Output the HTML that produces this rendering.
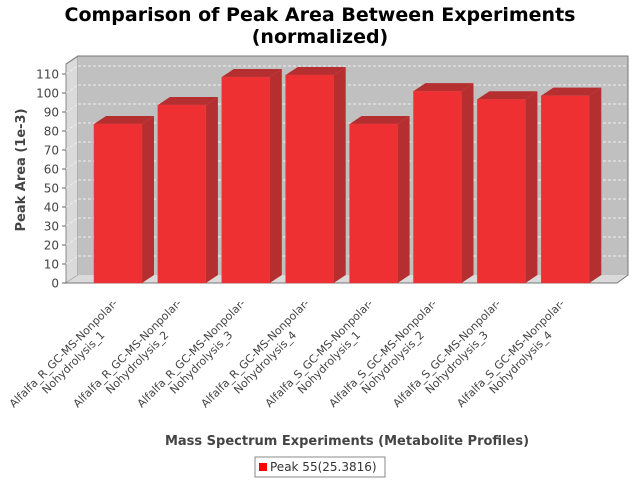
<!DOCTYPE html>
<html><head><meta charset="utf-8"><style>
body{margin:0;background:#fff}
svg{display:block;font-family:"DejaVu Sans","Liberation Sans",sans-serif}
</style></head><body>
<svg id="c" width="640" height="480" viewBox="0 0 640 480">
<text x="320" y="21" text-anchor="middle" font-size="19" font-weight="bold" fill="#000">Comparison of Peak Area Between Experiments</text>
<text x="320" y="43" text-anchor="middle" font-size="19" font-weight="bold" fill="#000">(normalized)</text>
<polygon points="66,64 78,56 78,275 66,283" fill="#dadada" stroke="#888"/>
<polygon points="66,283 78,275 628,275 617,283" fill="#dadada"/>
<rect x="78" y="56" width="550" height="219" fill="#c0c0c0"/>
<polyline points="66,64 78,56 628,56 628,275 617,283 66,283" fill="none" stroke="#777"/>
<g id="grid"></g><g id="bars"></g><g id="yaxis"></g><g id="xlabels"></g>
<text transform="translate(25,170) rotate(-90)" text-anchor="middle" font-size="13" font-weight="bold" fill="#444">Peak Area (1e-3)</text>
<text x="347" y="445" text-anchor="middle" font-size="13" font-weight="bold" fill="#444">Mass Spectrum Experiments (Metabolite Profiles)</text>
<g>
<rect x="255" y="457" width="130" height="20" fill="#fff" stroke="#888"/>
<rect x="259" y="463" width="8" height="8" fill="#f00"/>
<text x="270" y="471" font-size="12" fill="#333">Peak 55(25.3816)</text>
</g>
</svg>
<script>
const categories=["Alfalfa_R_GC-MS-Nonpolar-|Nohydrolysis_1","Alfalfa_R_GC-MS-Nonpolar-|Nohydrolysis_2","Alfalfa_R_GC-MS-Nonpolar-|Nohydrolysis_3","Alfalfa_R_GC-MS-Nonpolar-|Nohydrolysis_4","Alfalfa_S_GC-MS-Nonpolar-|Nohydrolysis_1","Alfalfa_S_GC-MS-Nonpolar-|Nohydrolysis_2","Alfalfa_S_GC-MS-Nonpolar-|Nohydrolysis_3","Alfalfa_S_GC-MS-Nonpolar-|Nohydrolysis_4"];
const values=[83.7,93.7,108.4,109.5,83.7,101,96.7,98.6];
const ticks=[0,10,20,30,40,50,60,70,80,90,100,110];
const NS="http://www.w3.org/2000/svg";
const y0=283,ppu=1.9,dx=12,dy=8,barW=48,pitch=63.9,start=94;
const yS=v=>y0-v*ppu;
const xS=i=>start+i*pitch;
function mk(t,a,p){const e=document.createElementNS(NS,t);for(const k in a)e.setAttribute(k,a[k]);p.appendChild(e);return e;}
const grid=document.getElementById('grid'),bars=document.getElementById('bars'),ya=document.getElementById('yaxis'),xl=document.getElementById('xlabels');
ticks.forEach(t=>{
  const y=yS(t);
  if(t>0){
    const g=mk('line',{x1:78,x2:628,y1:y-dy,y2:y-dy,stroke:'#eee','stroke-dasharray':'3,2','stroke-width':1},grid);
    
    
    const g2=mk('line',{x1:66,x2:78,y1:y,y2:y-dy,stroke:'#eee','stroke-dasharray':'3,2'},grid);
    
    
  }
  const tk=mk('line',{x1:62,x2:66,y1:y,y2:y,stroke:'#666'},ya);
  
  
  const tx=mk('text',{x:59,y:y+4.5,'text-anchor':'end','font-size':12,fill:'#444'},ya);
  tx.textContent=t;
  
  
});
values.forEach((v,i)=>{
  const x=xS(i),y=yS(v);
  const g=mk('g',{},bars);
  
  
  mk('polygon',{points:`${x+barW},${y} ${x+barW+dx},${y-dy} ${x+barW+dx},${y0-dy} ${x+barW},${y0}`,fill:'#b52e30'},g);
  mk('polygon',{points:`${x},${y} ${x+dx},${y-dy} ${x+barW+dx},${y-dy} ${x+barW},${y}`,fill:'#b52e30'},g);
  mk('rect',{x:x,y:y,width:barW,height:y0-y,fill:'#ee3033',stroke:'#d84040','stroke-width':0.5},g);
  const [l1,l2]=categories[i].split('|');
  const cx=x+barW/2;
  const a=mk('text',{transform:`translate(${cx-52},356) rotate(-45)`,'text-anchor':'middle','font-size':11,fill:'#444'},xl);
  a.textContent=l1;
  
  
  const b=mk('text',{transform:`translate(${cx-42},365) rotate(-45)`,'text-anchor':'middle','font-size':11,fill:'#444'},xl);
  b.textContent=l2;
  
  
});
</script>
</body></html>
